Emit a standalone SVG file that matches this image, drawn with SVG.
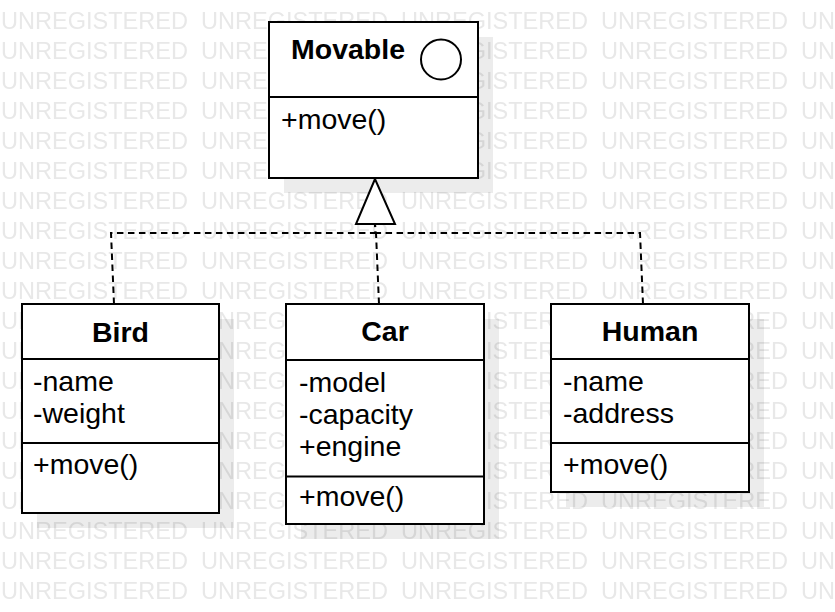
<svg xmlns="http://www.w3.org/2000/svg" width="835" height="612" viewBox="0 0 835 612">
<style>
.box{fill:#ffffff;stroke:#000000;stroke-width:2}
.shadow{fill:#000000;fill-opacity:0.075}
.sep{stroke:#000000;stroke-width:2}
.title{font-family:"Liberation Sans",Arial,sans-serif;font-size:28.5px;font-weight:bold;fill:#000000}
.txt{font-family:"Liberation Sans",Arial,sans-serif;font-size:28.5px;fill:#000000}
.wm{font-family:"Liberation Sans",Arial,sans-serif;font-size:23px;fill:#e8e8e8}
.dash{fill:none;stroke:#000000;stroke-width:2;stroke-dasharray:6.5 4.5}
</style>
<defs>
<pattern id="wmp" x="0" y="0" width="200" height="30" patternUnits="userSpaceOnUse">
<text class="wm" x="1" y="29" textLength="187" lengthAdjust="spacingAndGlyphs">UNREGISTERED</text>
</pattern>
</defs>
<rect x="0" y="0" width="835" height="612" fill="#ffffff"/>
<rect x="0" y="0" width="835" height="612" fill="url(#wmp)"/>
<g id="shadows">
<rect class="shadow" x="284" y="37" width="209" height="156"/>
<rect class="shadow" x="37" y="319" width="197" height="209"/>
<rect class="shadow" x="301" y="319" width="198" height="220"/>
<rect class="shadow" x="566" y="319" width="198" height="188"/>
</g>
<g id="connectors">
<path class="dash" d="M114,304 L111,233 H375 V224"/>
<path class="dash" d="M379,304 L376,233 L375,224"/>
<path class="dash" d="M643,304 L640,233 H375"/>
<polygon points="375,179 356,224 395,224" fill="#ffffff" stroke="#000000" stroke-width="2" stroke-linejoin="miter"/>
</g>
<g id="movable">
<rect class="box" x="269" y="22" width="209" height="156"/>
<line class="sep" x1="269" y1="97" x2="478" y2="97"/>
<text class="title" x="291" y="58.5">Movable</text>
<circle cx="441" cy="59.5" r="20" fill="#ffffff" stroke="#000000" stroke-width="2"/>
<text class="txt" x="281" y="128.5">+move()</text>
</g>
<g id="bird">
<rect class="box" x="22" y="304" width="197" height="209"/>
<line class="sep" x1="22" y1="359" x2="219" y2="359"/>
<line class="sep" x1="22" y1="443" x2="219" y2="443"/>
<text class="title" x="120.5" y="341.5" text-anchor="middle">Bird</text>
<text class="txt" x="33" y="391">-name</text>
<text class="txt" x="33" y="423">-weight</text>
<text class="txt" x="33" y="474">+move()</text>
</g>
<g id="car">
<rect class="box" x="286" y="304" width="198" height="220"/>
<line class="sep" x1="286" y1="360" x2="484" y2="360"/>
<line class="sep" x1="286" y1="476.5" x2="484" y2="476.5"/>
<text class="title" x="385" y="341" text-anchor="middle">Car</text>
<text class="txt" x="299" y="391.5">-model</text>
<text class="txt" x="299" y="423.5">-capacity</text>
<text class="txt" x="299" y="456">+engine</text>
<text class="txt" x="299" y="506">+move()</text>
</g>
<g id="human">
<rect class="box" x="551" y="304" width="198" height="188"/>
<line class="sep" x1="551" y1="359" x2="749" y2="359"/>
<line class="sep" x1="551" y1="443" x2="749" y2="443"/>
<text class="title" x="650" y="341" text-anchor="middle">Human</text>
<text class="txt" x="563" y="391">-name</text>
<text class="txt" x="563" y="423">-address</text>
<text class="txt" x="563" y="474">+move()</text>
</g>
</svg>
